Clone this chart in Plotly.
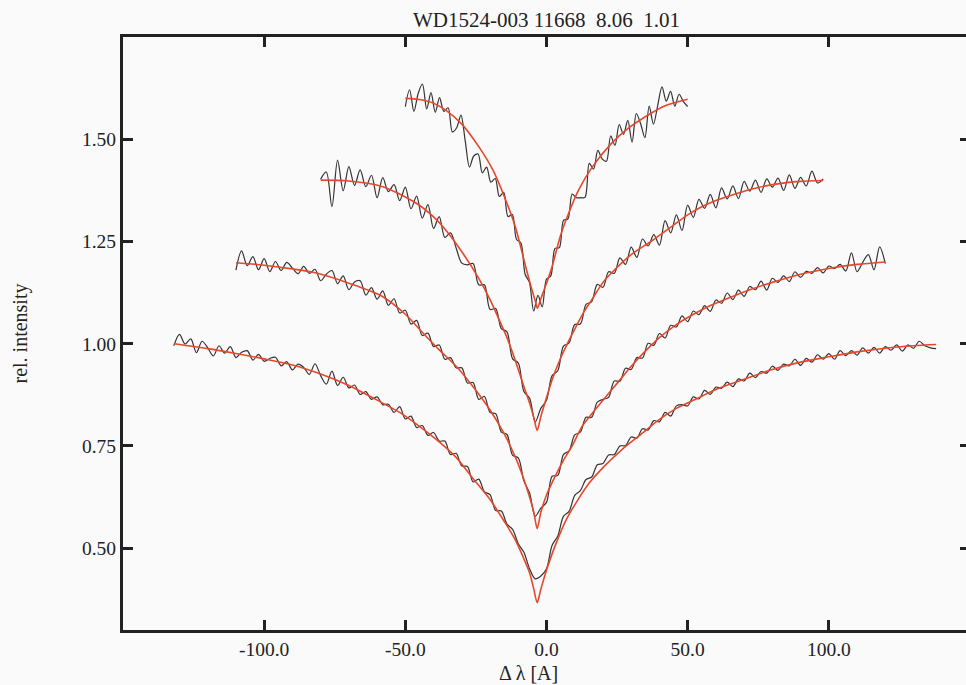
import numpy as np
import plotly.graph_objects as go

# ---------------- data ----------------
TITLE = "WD1524-003 11668\u00a0\u00a08.06\u00a0\u00a01.01"
X_LABEL = "\u0394 \u03bb [A]"
Y_LABEL = "rel. intensity"

x_tick_vals = [-100, -50, 0, 50, 100]
x_tick_text = ["-100.0", "-50.0", "0.0", "50.0", "100.0"]
y_tick_vals = [0.50, 0.75, 1.00, 1.25, 1.50]
y_tick_text = ["0.50", "0.75", "1.00", "1.25", "1.50"]

# observed spectra (black), sampled uniformly between start and end
obsA_range = [-132, 138]
obsA = [0.995, 1.023, 0.999, 1.012, 0.978, 1.006, 0.990, 0.970, 0.995, 0.977,
        0.993, 0.966, 0.979, 0.983, 0.960, 0.974, 0.957, 0.964, 0.967, 0.946,
        0.956, 0.936, 0.950, 0.942, 0.925, 0.951, 0.922, 0.901, 0.933, 0.898,
        0.918, 0.892, 0.899, 0.876, 0.883, 0.864, 0.870, 0.851, 0.852, 0.832,
        0.846, 0.816, 0.823, 0.795, 0.800, 0.776, 0.783, 0.762, 0.762, 0.729,
        0.732, 0.701, 0.700, 0.662, 0.669, 0.638, 0.631, 0.592, 0.591, 0.559,
        0.546, 0.511, 0.490, 0.450, 0.425, 0.432, 0.450, 0.507, 0.530, 0.578,
        0.590, 0.629, 0.641, 0.668, 0.674, 0.704, 0.707, 0.728, 0.729, 0.750,
        0.751, 0.772, 0.769, 0.792, 0.789, 0.812, 0.809, 0.832, 0.823, 0.848,
        0.851, 0.848, 0.870, 0.865, 0.886, 0.876, 0.894, 0.891, 0.906, 0.895,
        0.914, 0.909, 0.928, 0.917, 0.932, 0.928, 0.945, 0.935, 0.950, 0.946,
        0.962, 0.947, 0.964, 0.955, 0.973, 0.962, 0.976, 0.962, 0.983, 0.971,
        0.983, 0.972, 0.990, 0.977, 0.991, 0.977, 0.993, 0.984, 0.997, 0.982,
        0.997, 0.989, 1.006, 0.995, 0.990, 0.988]

obsB_range = [-110, 120]
obsB = [1.180, 1.227, 1.191, 1.213, 1.181, 1.208, 1.176, 1.201, 1.179, 1.199,
        1.185, 1.171, 1.189, 1.172, 1.182, 1.154, 1.170, 1.179, 1.147, 1.166,
        1.132, 1.151, 1.154, 1.119, 1.137, 1.109, 1.129, 1.094, 1.110, 1.075,
        1.082, 1.048, 1.057, 1.020, 1.026, 0.993, 0.997, 0.962, 0.966, 0.941,
        0.941, 0.904, 0.905, 0.864, 0.871, 0.832, 0.829, 0.784, 0.778, 0.727,
        0.721, 0.664, 0.635, 0.578, 0.598, 0.612, 0.676, 0.678, 0.729, 0.738,
        0.777, 0.784, 0.820, 0.820, 0.857, 0.864, 0.869, 0.909, 0.908, 0.940,
        0.937, 0.966, 0.965, 1.001, 0.996, 1.025, 1.014, 1.045, 1.041, 1.068,
        1.054, 1.080, 1.071, 1.093, 1.079, 1.107, 1.099, 1.124, 1.108, 1.131,
        1.116, 1.140, 1.132, 1.153, 1.131, 1.160, 1.150, 1.166, 1.152, 1.176,
        1.162, 1.177, 1.172, 1.186, 1.173, 1.190, 1.184, 1.194, 1.178, 1.222,
        1.176, 1.199, 1.218, 1.181, 1.237, 1.196]

obsC_range = [-80, 98]
obsC = [1.402, 1.420, 1.335, 1.449, 1.374, 1.433, 1.387, 1.425, 1.384, 1.412,
        1.357, 1.406, 1.372, 1.389, 1.350, 1.383, 1.330, 1.361, 1.307, 1.340,
        1.282, 1.311, 1.260, 1.271, 1.234, 1.197, 1.193, 1.196, 1.144, 1.144,
        1.084, 1.086, 1.037, 1.029, 0.963, 0.953, 0.883, 0.867, 0.809, 0.842,
        0.862, 0.922, 0.934, 0.994, 1.002, 1.047, 1.048, 1.096, 1.103, 1.145,
        1.138, 1.176, 1.172, 1.210, 1.194, 1.236, 1.211, 1.256, 1.239, 1.267,
        1.241, 1.301, 1.271, 1.315, 1.277, 1.339, 1.309, 1.353, 1.331, 1.365,
        1.332, 1.381, 1.354, 1.386, 1.355, 1.397, 1.373, 1.400, 1.370, 1.403,
        1.383, 1.405, 1.375, 1.413, 1.380, 1.407, 1.386, 1.422, 1.393, 1.403]

obsD_range = [-50, 50]
obsD = [1.580, 1.621, 1.568, 1.612, 1.635, 1.574, 1.614, 1.566, 1.602, 1.568,
        1.577, 1.518, 1.528, 1.559, 1.496, 1.432, 1.459, 1.464, 1.418, 1.432,
        1.395, 1.404, 1.360, 1.370, 1.311, 1.316, 1.255, 1.247, 1.170, 1.150,
        1.080, 1.118, 1.090, 1.158, 1.166, 1.233, 1.235, 1.302, 1.305, 1.366,
        1.357, 1.357, 1.358, 1.441, 1.427, 1.473, 1.452, 1.446, 1.508, 1.485,
        1.536, 1.512, 1.546, 1.493, 1.563, 1.538, 1.504, 1.581, 1.537, 1.583,
        1.628, 1.593, 1.617, 1.581, 1.610, 1.592, 1.580]

# model fits (red)
fitA_x = [-132, -120, -110, -100, -90, -80, -70, -60, -52, -45, -38, -32, -26, -20,
          -15, -11, -8, -6, -4.5, -3.3, -2, 0, 3, 7, 11, 15, 20, 27, 33, 40, 46,
          53, 60, 70, 80, 90, 100, 110, 120, 130, 138]
fitA_y = [1.000, 0.988, 0.976, 0.963, 0.948, 0.926, 0.898, 0.862, 0.832, 0.798,
          0.760, 0.722, 0.670, 0.619, 0.566, 0.520, 0.474, 0.440, 0.400, 0.367,
          0.400, 0.446, 0.505, 0.570, 0.617, 0.658, 0.697, 0.743, 0.776, 0.815,
          0.842, 0.865, 0.888, 0.913, 0.937, 0.955, 0.968, 0.980, 0.989, 0.995,
          0.998]

fitB_x = [-110, -100, -90, -81.5, -70, -58, -50, -44, -38, -32, -26, -20, -15, -11,
          -8, -6, -4.5, -3.3, -2, 0, 3, 6, 9, 12.6, 16, 20, 25, 30, 35, 40, 45, 50,
          57, 65, 72, 80, 90, 100, 110, 120]
fitB_y = [1.198, 1.192, 1.183, 1.173, 1.148, 1.115, 1.072, 1.028, 0.985, 0.945,
          0.895, 0.838, 0.780, 0.722, 0.668, 0.625, 0.588, 0.548, 0.588, 0.630,
          0.675, 0.715, 0.749, 0.798, 0.828, 0.862, 0.903, 0.945, 0.982, 1.015,
          1.042, 1.064, 1.090, 1.113, 1.132, 1.150, 1.170, 1.184, 1.194, 1.200]

fitC_x = [-80, -70, -58, -46, -40, -35, -30, -24, -20, -16.8, -14, -11, -8, -6, -4.5,
          -3.3, -2, 0, 2, 5, 9, 13, 16, 20, 23, 30, 37, 45, 50, 55, 60, 65, 70, 75,
          80, 85, 90, 98]
fitC_y = [1.400, 1.398, 1.384, 1.343, 1.310, 1.272, 1.225, 1.160, 1.108, 1.059,
          1.015, 0.958, 0.895, 0.855, 0.820, 0.788, 0.822, 0.868, 0.912, 0.965,
          1.022, 1.075, 1.107, 1.150, 1.173, 1.218, 1.250, 1.290, 1.315, 1.335,
          1.350, 1.362, 1.373, 1.382, 1.389, 1.394, 1.397, 1.399]

fitD_x = [-50, -45, -40, -35.7, -30, -24, -19, -14.5, -11, -7.4, -5.5, -4, -3.2, -2,
          0, 2, 5, 8, 11.4, 16, 23, 29, 35, 42, 50]
fitD_y = [1.600, 1.597, 1.588, 1.571, 1.537, 1.482, 1.425, 1.352, 1.285, 1.189,
          1.140, 1.105, 1.087, 1.110, 1.148, 1.189, 1.265, 1.322, 1.376, 1.430,
          1.490, 1.527, 1.555, 1.582, 1.598]

observed = [(obsA_range, obsA), (obsB_range, obsB), (obsC_range, obsC), (obsD_range, obsD)]
fits = [(fitA_x, fitA_y), (fitB_x, fitB_y), (fitC_x, fitC_y), (fitD_x, fitD_y)]

# ---------------- figure ----------------
FONT = "Liberation Serif"
INK = "#222222"
BG = "#fafafa"

fig = go.Figure()
for rng, vals in observed:
    xs = np.linspace(rng[0], rng[1], len(vals))
    fig.add_trace(go.Scatter(x=xs, y=vals, mode="lines",
                             line=dict(color="#333333", width=1.2, shape="spline", smoothing=0.9),
                             showlegend=False, hoverinfo="skip"))
for fx, fy in fits:
    fig.add_trace(go.Scatter(x=fx, y=fy, mode="lines",
                             line=dict(color="#e5482c", width=1.6, shape="spline", smoothing=0.8),
                             showlegend=False, hoverinfo="skip"))

axis_common = dict(showgrid=False, zeroline=False, ticks="inside", ticklen=10,
                   tickwidth=2.5, tickcolor=INK, showline=True, linewidth=3,
                   linecolor=INK, mirror="ticks",
                   tickfont=dict(family=FONT, size=19.5, color=INK))

# the frame of the original runs a few pixels past the right edge of the window
fig.update_layout(
    width=973, height=685,
    margin=dict(l=123, r=0, t=37, b=55, pad=0),
    paper_bgcolor=BG, plot_bgcolor=BG,
    font=dict(family=FONT, color=INK),
    title=dict(text=TITLE, x=0.5, xanchor="center", xref="paper",
               y=1 - 20 / 685, yref="container", yanchor="middle",
               font=dict(family=FONT, size=21, color=INK)),
    xaxis=dict(range=[-150, 150], tickvals=x_tick_vals, ticktext=x_tick_text,
               **axis_common),
    yaxis=dict(range=[0.30, 1.75], tickvals=y_tick_vals, ticktext=y_tick_text,
               **axis_common),
    annotations=[
        dict(text=Y_LABEL, textangle=-90, xref="paper", yref="paper", x=0, y=0.5,
             xanchor="center", yanchor="middle", xshift=-103, showarrow=False,
             font=dict(family=FONT, size=20, color=INK)),
        dict(text=X_LABEL, xref="paper", yref="paper", x=0.5, y=0,
             xanchor="center", yanchor="middle", xshift=-18, yshift=-43, showarrow=False,
             font=dict(family=FONT, size=20, color=INK)),
    ],
)

fig.write_html(
    "out.html",
    config={"displayModeBar": False},
    post_script="document.body.style.margin='0';document.body.style.overflow='hidden';",
)
